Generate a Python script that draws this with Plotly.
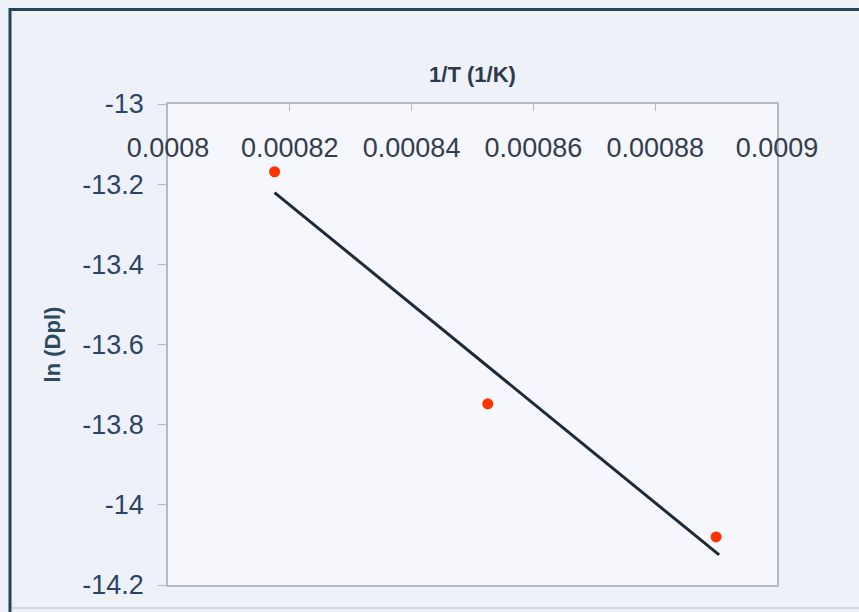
import plotly.graph_objects as go

# data
inv_T = [0.0008175, 0.0008525, 0.000890]
ln_dpl = [-13.169, -13.748, -14.080]
fit_x = [0.0008175, 0.0008905]
fit_y = [-13.221, -14.125]

x_ticks = [0.0008, 0.00082, 0.00084, 0.00086, 0.00088, 0.0009]
x_labels = ["0.0008", "0.00082", "0.00084", "0.00086", "0.00088", "0.0009"]
y_ticks = [-13, -13.2, -13.4, -13.6, -13.8, -14, -14.2]
y_labels = ["-13", "-13.2", "-13.4", "-13.6", "-13.8", "-14", "-14.2"]

W, H = 859, 612
L, R, T, B = 168, 777, 104, 587

fig = go.Figure()
fig.add_trace(go.Scatter(x=fit_x, y=fit_y, mode="lines",
                         line=dict(color="#1f2a38", width=3), showlegend=False))
fig.add_trace(go.Scatter(x=inv_T, y=ln_dpl, mode="markers",
                         marker=dict(color="#ff3300", size=11), showlegend=False))

def px2paper_x(p):
    return (p - L) / (R - L)

def px2paper_y(p):
    return (B - p) / (B - T)

fig.update_layout(
    width=W, height=H,
    margin=dict(l=L, r=W - R, t=T, b=H - B),
    paper_bgcolor="#eff1f9",
    plot_bgcolor="#f5f7fd",
    font=dict(family="Liberation Sans, Arial, sans-serif"),
    xaxis=dict(
        side="top", range=[0.0008, 0.0009],
        tickvals=x_ticks, ticktext=x_labels,
        ticks="inside", ticklen=7, tickcolor="#b5b9c3",
        ticklabelposition="inside", ticklabelstandoff=30,
        ticklabeloverflow="allow",
        tickfont=dict(size=27, color="#343d4c"),
        showline=True, mirror=True, linecolor="#b5b9c3", linewidth=1.5,
        showgrid=False, zeroline=False,
        title=dict(text="<b>1/T (1/K)</b>", font=dict(size=22, color="#2c3a4e"), standoff=45),
    ),
    yaxis=dict(
        range=[-14.2, -13],
        tickvals=y_ticks, ticktext=y_labels,
        ticks="outside", ticklen=8, tickcolor="#b5b9c3",
        ticklabelstandoff=9, ticklabeloverflow="allow",
        tickfont=dict(size=27, color="#2b4468"),
        showline=True, mirror=True, linecolor="#b5b9c3", linewidth=1.5,
        showgrid=False, zeroline=False,
        title=dict(text="<b>ln (Dpl)</b>", font=dict(size=22, color="#2b4a62"), standoff=16),
    ),
    shapes=[
        dict(type="rect", xref="paper", yref="paper",
             x0=px2paper_x(10), x1=px2paper_x(880),
             y0=px2paper_y(640), y1=px2paper_y(9),
             line=dict(color="#23455a", width=3), layer="below"),
        dict(type="line", xref="paper", yref="paper",
             x0=px2paper_x(12), x1=px2paper_x(860),
             y0=px2paper_y(610), y1=px2paper_y(610),
             line=dict(color="#c9ccd4", width=1.5)),
    ],
)

fig.write_html("out.html")
